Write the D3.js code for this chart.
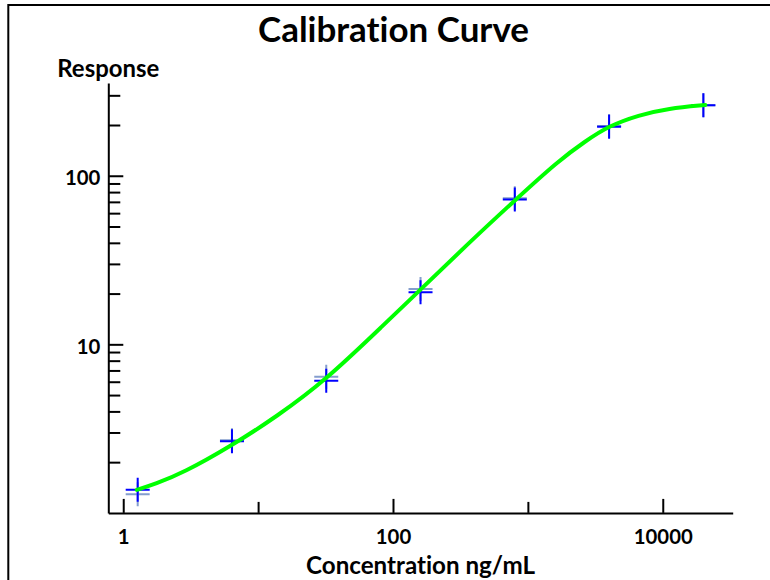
<!DOCTYPE html>
<html><head><meta charset="utf-8">
<script src="https://cdn.jsdelivr.net/npm/d3@7"></script>
<style>
body{margin:0;background:#fff}
svg{display:block}
text{font-family:Lato,"Open Sans",sans-serif;font-weight:700;fill:#000;font-variant-ligatures:none}
</style>
</head><body><svg id="chart" width="770" height="580"></svg>
<script>
// ---- data ----
const chartTitle = "Calibration Curve";
const xTitle = "Concentration ng/mL";
const yTitle = "Response";
const xDomain = [0.775, 33000];
const yDomain = [1, 355];
const xMajorTicks = [1, 100, 10000];
const xMinorTicks = [10, 1000];
const yMajorTicks = [10, 100];
const yMinorTicks = [2, 3, 4, 5, 6, 7, 8, 9, 20, 30, 40, 50, 60, 70, 80, 90, 200, 300];
const standardsConc = [1.28, 6.4, 32, 160, 800, 4000, 20000];
const responseRep1 = [1.37, 2.66, 6.08, 20.4, 72.4, 195, 262];
const responseRep2 = [1.29, 2.70, 6.43, 21.3, 73.5, 197, 262];
const fitConc = [1.26, 1.72, 2.79, 6.19, 13.7, 32.3, 87.4, 164, 362, 805, 1690, 2660, 3960, 6620, 11000, 20700];
const fitResp = [1.37, 1.48, 1.73, 2.47, 3.72, 6.20, 13.3, 21.5, 39.7, 71.8, 123, 160, 197, 229, 251, 263];

// ---- layout ----
const svg = d3.select("#chart");
const x = d3.scaleLog().domain(xDomain).range([108.3, 732.7]);
const y = d3.scaleLog().domain(yDomain).range([512.9, 83]);

function fitWidth(sel, target, start) {
  sel.style("font-size", start + "px");
  const w = sel.node().getComputedTextLength();
  const s = start * target / w;
  sel.style("font-size", s + "px");
  return s;
}

// outer frame (extends past the right/bottom edge)
svg.append("rect").attr("x", 8.3).attr("y", 5).attr("width", 900).attr("height", 700)
  .attr("fill", "none").attr("stroke", "#000").attr("stroke-width", 2);

// title
const t = svg.append("text").attr("x", 393.5).attr("y", 42).attr("text-anchor", "middle").text(chartTitle);
fitWidth(t, 271, 33);

// y-axis title
const yt = svg.append("text").attr("x", 57.3).attr("y", 77.3).attr("text-anchor", "start").text(yTitle);
fitWidth(yt, 102, 23);

// x-axis title
const xt = svg.append("text").attr("x", 420.5).attr("y", 574).attr("text-anchor", "middle").text(xTitle);
fitWidth(xt, 229, 23);

// tick label size from "10000"
const probe = svg.append("text").text("10000");
const tickFs = fitWidth(probe, 59, 20);
probe.remove();

function styleAxis(g) {
  g.selectAll("path,line").attr("stroke", "#000").attr("stroke-width", 2);
  g.selectAll("text").style("font-size", tickFs + "px").attr("fill", "#000")
    .style("font-family", "Lato,'Open Sans',sans-serif").style("font-weight", 700);
}

// x axis
const gxMinor = svg.append("g").attr("transform", "translate(0,512.9)")
  .call(d3.axisBottom(x).tickValues(xMinorTicks).tickSize(-11).tickSizeOuter(0).tickFormat(""));
gxMinor.select(".domain").remove();
styleAxis(gxMinor);
const gx = svg.append("g").attr("transform", "translate(0,512.9)")
  .call(d3.axisBottom(x).tickValues(xMajorTicks).tickSize(-14).tickSizeOuter(0).tickFormat(d3.format("d")));
styleAxis(gx);
gx.selectAll(".tick text").attr("y", 31).attr("dy", null);

// y axis
const gyMinor = svg.append("g").attr("transform", "translate(108.3,0)")
  .call(d3.axisLeft(y).tickValues(yMinorTicks).tickSize(-12).tickSizeOuter(0).tickFormat(""));
gyMinor.select(".domain").remove();
styleAxis(gyMinor);
const gy = svg.append("g").attr("transform", "translate(108.3,0)")
  .call(d3.axisLeft(y).tickValues(yMajorTicks).tickSize(-15).tickSizeOuter(0).tickFormat(d3.format("d")));
styleAxis(gy);
gy.selectAll(".tick text").attr("x", -8).attr("dy", 8.7);

// markers (replicates)
const cross = "M-12,0H12M0,-12V12";
svg.append("g").selectAll("path").data(standardsConc).join("path")
  .attr("d", cross)
  .attr("transform", (d, i) => `translate(${x(d)},${y(responseRep2[i])})`)
  .attr("stroke", "#6f8cc4").attr("stroke-opacity", 0.85).attr("stroke-width", 2).attr("fill", "none");
svg.append("g").selectAll("path").data(standardsConc).join("path")
  .attr("d", cross)
  .attr("transform", (d, i) => `translate(${x(d)},${y(responseRep1[i])})`)
  .attr("stroke", "#0000ff").attr("stroke-width", 2).attr("fill", "none");

// fitted curve
const line = d3.line().x(d => x(d[0])).y(d => y(d[1])).curve(d3.curveBasis);
svg.append("path").datum(fitConc.map((c, i) => [c, fitResp[i]]))
  .attr("d", line).attr("fill", "none").attr("stroke", "#00ff00").attr("stroke-width", 4)
  .attr("stroke-linecap", "round");
</script>
</body></html>
